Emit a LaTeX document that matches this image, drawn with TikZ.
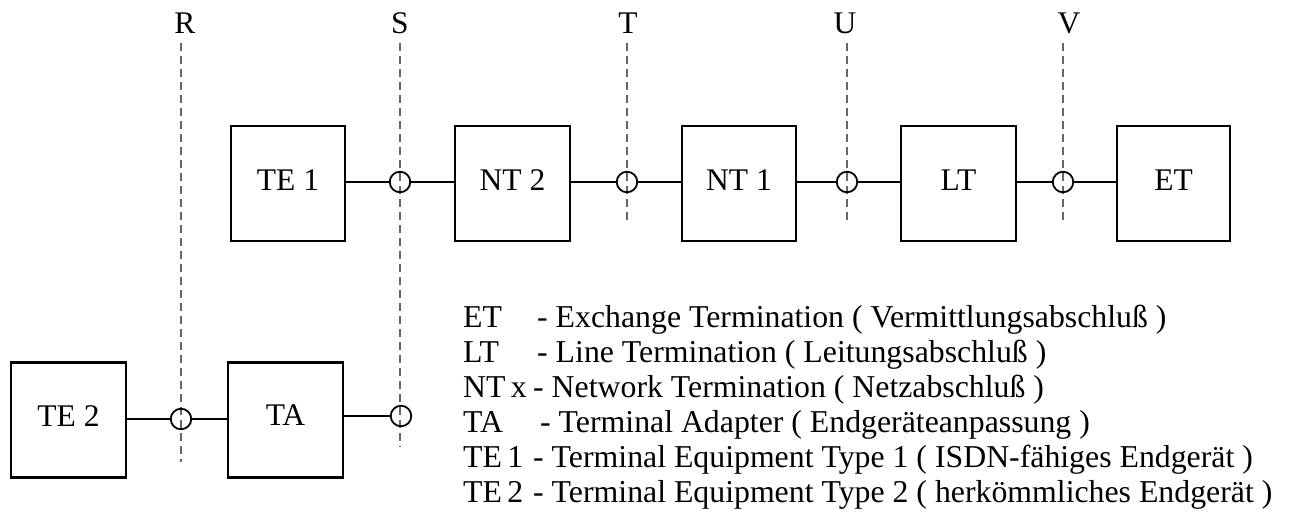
\documentclass[tikz,border=0pt]{standalone}
\usepackage{fontspec}
\setmainfont{Liberation Serif}
\begin{document}
\begin{tikzpicture}[x=1pt,y=-1pt,
  txt/.style={font=\fontsize{31.5}{36}\selectfont},
  blk/.style={draw, line width=2.5pt, inner sep=0pt, minimum height=115pt, text depth=7pt, txt},
  jn/.style={draw, circle, line width=1.8pt, inner sep=0pt, minimum size=20.5pt},
  conn/.style={line width=2pt},
  refline/.style={draw=black!60, line width=1.2pt, dash pattern=on 8pt off 5pt},
  reflab/.style={txt, inner sep=0pt},
  leg/.style={anchor=base west, inner sep=0pt, font=\fontsize{31.8}{36}\selectfont}]
\useasboundingbox (0,0) rectangle (1293,519);
% reference lines
\foreach \n/\x/\lx/\b in {R/181/185/462, S/400/400/447, T/627/628/220, U/847/845/220, V/1063/1069/220}{
  \coordinate (\n top) at (\x,43);
  \coordinate (\n bot) at (\x,\b);
  \node[reflab] (\n lab) at (\lx,23) {\n};
  \draw[refline] (\n top) -- (\n bot);
}
% top row
\node[blk, minimum width=114pt] (te1) at (288,183.5) {TE 1};
\node[blk, minimum width=115pt] (nt2) at (512.5,183.5) {NT 2};
\node[blk, minimum width=114pt] (nt1) at (739,183.5) {NT 1};
\node[blk, minimum width=115pt] (lt) at (958.5,183.5) {LT};
\node[blk, minimum width=113pt] (et) at (1173.5,183.5) {ET};
\node[jn] (cS) at (400,182) {};
\node[jn] (cT) at (627,182) {};
\node[jn] (cU) at (847,182) {};
\node[jn] (cV) at (1063,182) {};
\draw[conn] (te1.east |- cS) -- (cS);
\draw[conn] (cS) -- (nt2.west |- cS);
\draw[conn] (nt2.east |- cT) -- (cT);
\draw[conn] (cT) -- (nt1.west |- cT);
\draw[conn] (nt1.east |- cU) -- (cU);
\draw[conn] (cU) -- (lt.west |- cU);
\draw[conn] (lt.east |- cV) -- (cV);
\draw[conn] (cV) -- (et.west |- cV);
% bottom row
\node[blk, minimum width=115pt] (te2) at (68.5,420) {TE 2};
\node[blk, minimum width=115pt] (ta) at (285.5,420) {\raisebox{3pt}{TA}};
\node[jn] (cR) at (181,419) {};
\node[jn] (cS2) at (401,416) {};
\draw[conn] (te2.east |- cR) -- (cR);
\draw[conn] (cR) -- (ta.west |- cR);
\draw[conn] (ta.east |- cS2) -- (cS2);
% legend
\node[leg] (l1) at (463,327) {\makebox[74pt][l]{ET}- Exchange Termination ( Vermittlungsabschluß )};
\node[leg] (l2) at (463,362) {\makebox[74pt][l]{LT}- Line Termination ( Leitungsabschluß )};
\node[leg] (l3) at (463,397) {\makebox[70pt][l]{NT\,x}- Network Termination ( Netzabschluß )};
\node[leg] (l4) at (463,432) {\makebox[77pt][l]{TA}- Terminal Adapter ( Endgeräteanpassung )};
\node[leg] (l5) at (463,467) {\makebox[70pt][l]{TE\,1}- Terminal Equipment Type 1 ( ISDN-fähiges Endgerät )};
\node[leg] (l6) at (463,502) {\makebox[70pt][l]{TE\,2}- Terminal Equipment Type 2 ( herkömmliches Endgerät )};
\end{tikzpicture}
\end{document}
